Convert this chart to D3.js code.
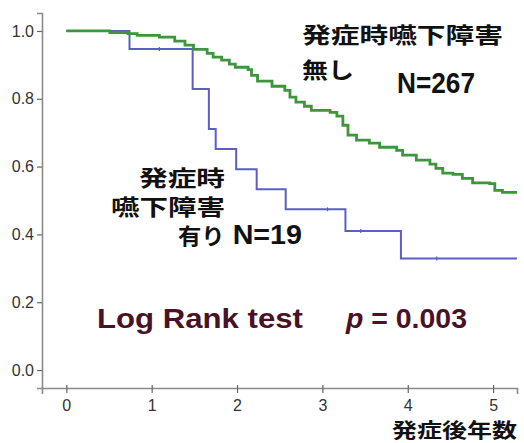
<!DOCTYPE html>
<html><head><meta charset="utf-8">
<script src="https://cdn.jsdelivr.net/npm/d3@7"></script>
<style>
html,body{margin:0;padding:0;background:#fff;}
svg{display:block;}
</style></head>
<body>
<svg id="chart" width="524" height="443"></svg>
<script>
// ---- data ----
const xTicks = [0, 1, 2, 3, 4, 5];
const yTicks = [0.0, 0.2, 0.4, 0.6, 0.8, 1.0];
// Group without dysphagia at onset (N=267): step times (years) and survival after step
const greenTimes = [0, 0.51, 0.72, 0.83, 1.09, 1.27, 1.39, 1.49, 1.65, 1.72, 1.82, 1.91, 1.98, 2.13, 2.17, 2.24, 2.41, 2.56, 2.62, 2.69, 2.79, 2.87, 3.09, 3.17, 3.24, 3.30, 3.40, 3.55, 3.67, 3.87, 3.94, 4.10, 4.26, 4.33, 4.41, 4.53, 4.64, 4.76, 4.96, 5.02, 5.11];
const greenSurv  = [1.0, 0.995, 0.992, 0.987, 0.982, 0.970, 0.958, 0.946, 0.934, 0.923, 0.914, 0.902, 0.893, 0.886, 0.869, 0.852, 0.837, 0.825, 0.805, 0.790, 0.778, 0.766, 0.760, 0.749, 0.722, 0.693, 0.678, 0.669, 0.657, 0.648, 0.634, 0.619, 0.607, 0.595, 0.581, 0.577, 0.565, 0.552, 0.550, 0.530, 0.524];
const greenEnd = 5.28;
// Group with dysphagia at onset (N=19)
const blueTimes = [0, 0.74, 1.48, 1.67, 1.75, 1.99, 2.23, 2.57, 3.27, 3.92];
const blueSurv  = [1.0, 0.947, 0.829, 0.711, 0.652, 0.592, 0.533, 0.474, 0.410, 0.329];
const blueEnd = 5.28;
const blueCensorTimes = [1.09, 3.06, 3.45, 4.34];

const svg = d3.select("#chart");
const x = d3.scaleLinear().domain([-0.285, 5.28]).range([42, 517]);
const y = d3.scaleLinear().domain([-0.053, 1.053]).range([388, 13]);

const axisColor = "#8a8a8a";
const labelFont = "'Liberation Sans', Arial, sans-serif";
const cjkFont = "'Noto Sans CJK JP', 'Noto Sans CJK SC', sans-serif";

// axes
const gx = svg.append("g").attr("transform", "translate(0,388)")
  .call(d3.axisBottom(x).tickValues(xTicks).tickFormat(d3.format("d")).tickSizeOuter(0).tickSize(6).tickPadding(5));
const gy = svg.append("g").attr("transform", "translate(42,0)")
  .call(d3.axisLeft(y).tickValues(yTicks).tickFormat(d3.format(".1f")).tickSizeOuter(0).tickSize(5).tickPadding(3));
[gx, gy].forEach(g => {
  g.select(".domain").attr("stroke", axisColor).attr("stroke-width", 1.6);
  g.selectAll(".tick line").attr("stroke", "#666").attr("stroke-width", 1.2);
  g.selectAll(".tick text").attr("fill", "#333").attr("font-size", 16).attr("font-family", labelFont);
});
gx.selectAll(".tick line").attr("y1", -3).attr("y2", 5);
gx.selectAll(".tick text").attr("dy", "0.72em");

// KM step lines
function stepPts(times, surv, end) {
  const pts = times.map((t, i) => [t, surv[i]]);
  pts.push([end, surv[surv.length - 1]]);
  return pts;
}
const line = d3.line().x(d => x(d[0])).y(d => y(d[1])).curve(d3.curveStepAfter);

svg.append("path").datum(stepPts(blueTimes, blueSurv, blueEnd))
  .attr("d", line).attr("fill", "none").attr("stroke", "#5a5fc6").attr("stroke-width", 2);
// blue censor marks
svg.selectAll(".bc").data(blueCensorTimes).enter().append("line")
  .attr("x1", d => x(d)).attr("x2", d => x(d))
  .attr("y1", d => { const i = d3.bisectRight(blueTimes, d) - 1; return y(blueSurv[i]) - 2; })
  .attr("y2", d => { const i = d3.bisectRight(blueTimes, d) - 1; return y(blueSurv[i]) + 2; })
  .attr("stroke", "#5a5fc6").attr("stroke-width", 1.2);

svg.append("path").datum(stepPts(greenTimes, greenSurv, greenEnd))
  .attr("d", line).attr("fill", "none").attr("stroke", "#3d953c").attr("stroke-width", 2.8)
  .attr("stroke-linejoin", "miter");

// annotations
function txt(s, xx, yy, opts) {
  const t = svg.append("text").attr("x", xx).attr("y", yy).text(s)
    .attr("font-family", opts.font || cjkFont)
    .attr("font-size", opts.size)
    .attr("font-weight", opts.weight || "bold")
    .attr("fill", opts.fill || "#111")
    .attr("text-anchor", opts.anchor || "start");
  if (opts.len) t.attr("textLength", opts.len).attr("lengthAdjust", opts.adj || "spacingAndGlyphs");
  return t;
}
txt("発症時嚥下障害", 302, 43, {size: 22, len: 201});
txt("無し", 302, 78, {size: 22, len: 52});
txt("N=267", 397, 93, {size: 29, font: labelFont, len: 78});

txt("発症時", 225, 186, {size: 22, anchor: "end", len: 86});
txt("嚥下障害", 225, 215, {size: 22, anchor: "end", len: 114});
const t19 = svg.append("text").attr("x", 178).attr("y", 244)
  .attr("font-weight", "bold").attr("fill", "#111")
  .attr("textLength", 124).attr("lengthAdjust", "spacingAndGlyphs");
t19.append("tspan").attr("font-family", cjkFont).attr("font-size", 22).text("有り");
t19.append("tspan").attr("font-family", labelFont).attr("font-size", 27).text(" N=19");

txt("Log Rank test", 97, 328, {size: 28, font: labelFont, fill: "#4a1226", len: 206});
const tp = svg.append("text").attr("x", 346).attr("y", 328)
  .attr("font-family", labelFont).attr("font-size", 28).attr("font-weight", "bold")
  .attr("fill", "#4a1226").attr("textLength", 121).attr("lengthAdjust", "spacingAndGlyphs");
tp.append("tspan").attr("font-style", "italic").text("p");
tp.append("tspan").text(" = 0.003");

txt("発症後年数", 517, 438, {size: 20, anchor: "end", len: 125});
</script>
</body></html>
